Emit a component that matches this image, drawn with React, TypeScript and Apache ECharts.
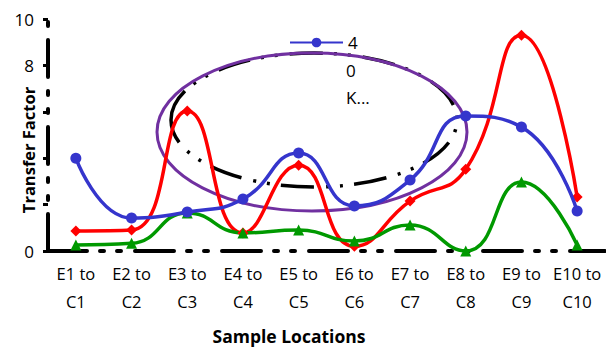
import React, { useEffect, useRef } from "react";
import * as echarts from "echarts";

const categories = [
  "E1 to\nC1", "E2 to\nC2", "E3 to\nC3", "E4 to\nC4", "E5 to\nC5",
  "E6 to\nC6", "E7 to\nC7", "E8 to\nC8", "E9 to\nC9", "E10 to\nC10",
];
const blueValues = [4.0, 1.42, 1.68, 2.24, 4.22, 1.94, 3.06, 5.82, 5.34, 1.72];
const redValues = [0.86, 0.9, 6.03, 0.78, 3.7, 0.2, 2.15, 3.52, 9.3, 2.33];
const greenValues = [0.26, 0.33, 1.64, 0.78, 0.9, 0.43, 1.12, 0.0, 2.97, 0.26];
const yTickLabels: Record<number, string> = { 0: "0", 8: "8", 10: "10" };
const legendLines = ["4", "0", "K..."];

const FONT = "Open Sans";

export default function App() {
  const ref = useRef<HTMLDivElement>(null);
  useEffect(() => {
    if (!ref.current) return;
    document.body.style.margin = "0";
    const chart = echarts.init(ref.current, undefined, { renderer: "svg" });
    const dash = [39, 13, 4, 13, 4, 14];
    chart.setOption({
      animation: false,
      grid: { left: 48, right: 1, top: 19, bottom: 98, containLabel: false },
      legend: {
        data: [legendLines[0]],
        left: 289,
        top: 34,
        padding: 0,
        itemWidth: 53,
        itemHeight: 12,
        textStyle: { fontSize: 17, color: "#000", fontFamily: FONT },
      },
      xAxis: {
        type: "category",
        data: categories,
        boundaryGap: true,
        axisLine: { lineStyle: { color: "#000", width: 4, type: dash } },
        axisTick: { show: false },
        axisLabel: {
          color: "#000",
          fontSize: 16.5,
          fontFamily: FONT,
          lineHeight: 28,
          margin: 8,
          interval: 0,
        },
      },
      yAxis: {
        type: "value",
        min: 0,
        max: 10,
        interval: 2,
        splitLine: { show: false },
        axisLine: { show: true, lineStyle: { color: "#000", width: 4, type: [37, 14, 4, 14, 4, 14] } },
        axisTick: { show: true, length: 5, lineStyle: { color: "#000", width: 3 } },
        axisLabel: {
          color: "#000",
          fontSize: 17,
          fontFamily: FONT,
          margin: 14,
          formatter: (v: number) => yTickLabels[v] ?? "",
        },
      },
      graphic: [
        {
          type: "ellipse",
          shape: { cx: 314, cy: 120, rx: 143, ry: 67 },
          style: { fill: "none", stroke: "#000", lineWidth: 3.5, lineDash: [33, 11, 3, 11, 3, 12] },
          z: 0,
        },
        {
          type: "ellipse",
          shape: { cx: 312, cy: 132, rx: 155, ry: 79 },
          style: { fill: "none", stroke: "#7030A0", lineWidth: 3 },
          z: 1,
        },
        {
          type: "text",
          x: 346,
          y: 70,
          style: { text: legendLines[1], fontSize: 17, fontFamily: FONT, fill: "#000", verticalAlign: "middle" },
          z: 10,
        },
        {
          type: "text",
          x: 346,
          y: 97,
          style: { text: legendLines[2], fontSize: 17, fontFamily: FONT, fill: "#000", verticalAlign: "middle" },
          z: 10,
        },
        {
          type: "text",
          x: 28,
          y: 150,
          rotation: Math.PI / 2,
          style: {
            text: "Transfer Factor",
            fontSize: 16.5,
            fontWeight: "bold",
            fontFamily: FONT,
            fill: "#000",
            align: "center",
            verticalAlign: "middle",
          },
          z: 10,
        },
        {
          type: "text",
          x: 289,
          y: 336,
          style: {
            text: "Sample Locations",
            fontSize: 17.5,
            fontWeight: "bold",
            fontFamily: FONT,
            fill: "#000",
            align: "center",
            verticalAlign: "middle",
          },
          z: 10,
        },
      ],
      series: [
        {
          name: legendLines[0],
          type: "line",
          data: blueValues,
          smooth: true,
          symbol: "circle",
          symbolSize: 11,
          lineStyle: { color: "#3535CC", width: 3.5 },
          itemStyle: { color: "#3535CC" },
          z: 4,
        },
        {
          name: "red",
          type: "line",
          data: redValues,
          smooth: true,
          symbol: "diamond",
          symbolSize: 11,
          lineStyle: { color: "#FF0000", width: 3.5 },
          itemStyle: { color: "#FF0000" },
          z: 3,
        },
        {
          name: "green",
          type: "line",
          data: greenValues,
          smooth: true,
          symbol: "triangle",
          symbolSize: 11,
          lineStyle: { color: "#009900", width: 3.5 },
          itemStyle: { color: "#009900" },
          z: 3,
        },
      ],
    });
    return () => chart.dispose();
  }, []);
  return <div ref={ref} style={{ width: 606, height: 349 }} />;
}
